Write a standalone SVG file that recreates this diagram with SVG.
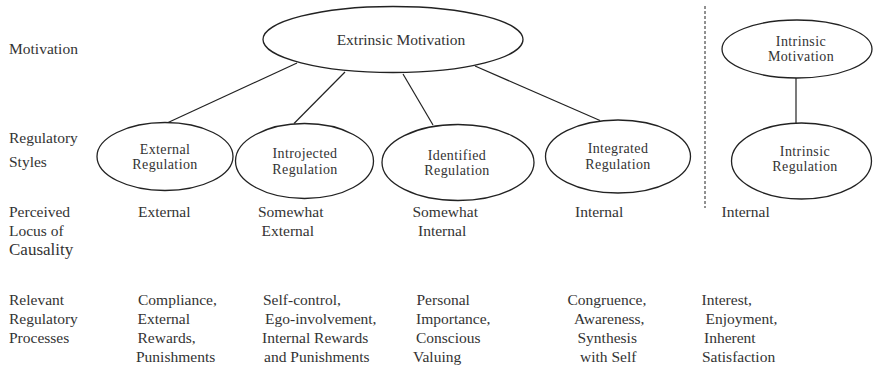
<svg xmlns="http://www.w3.org/2000/svg" width="878" height="369" viewBox="0 0 878 369">
<style>
text{font-family:"Liberation Serif","Times New Roman",serif;font-size:15.5px;fill:#333}
.c{text-anchor:middle}
.n ellipse{fill:#fff;stroke:#222;stroke-width:1.3}
.t{font-size:14px;letter-spacing:0.4px}
#connectors line{stroke:#222;stroke-width:1.2}
</style>
<rect width="878" height="369" fill="#fff"/>
<g id="connectors">
<line x1="297" y1="63" x2="167" y2="123"/>
<line x1="345" y1="72" x2="294" y2="123.5"/>
<line x1="403" y1="74" x2="433" y2="125"/>
<line x1="475" y1="66" x2="600" y2="120.5"/>
<line x1="796" y1="78" x2="796" y2="123"/>
</g>
<line id="divider" x1="705" y1="6" x2="705" y2="208" stroke="#222" stroke-width="1" stroke-dasharray="3 2"/>
<g id="extrinsic-motivation" class="n"><ellipse cx="393" cy="39.5" rx="130" ry="33"/><text class="c" x="401" y="45">Extrinsic Motivation</text></g>
<g id="external-regulation" class="n"><ellipse cx="165" cy="156.5" rx="68" ry="34"/><text class="c t" x="165" y="153.5">External</text><text class="c t" x="165" y="169">Regulation</text></g>
<g id="introjected-regulation" class="n"><ellipse cx="304.5" cy="161" rx="69" ry="37.5"/><text class="c t" x="305" y="158">Introjected</text><text class="c t" x="305" y="173.5">Regulation</text></g>
<g id="identified-regulation" class="n"><ellipse cx="458" cy="162.5" rx="76" ry="38"/><text class="c t" x="457" y="159.5">Identified</text><text class="c t" x="457" y="175">Regulation</text></g>
<g id="integrated-regulation" class="n"><ellipse cx="618" cy="156.5" rx="72.5" ry="36.5"/><text class="c t" x="618" y="153.25">Integrated</text><text class="c t" x="618" y="168.75">Regulation</text></g>
<g id="intrinsic-motivation" class="n"><ellipse cx="797" cy="49" rx="75" ry="29"/><text class="c t" x="801" y="45.5">Intrinsic</text><text class="c t" x="801" y="61">Motivation</text></g>
<g id="intrinsic-regulation" class="n"><ellipse cx="801.5" cy="161" rx="70" ry="38"/><text class="c t" x="805" y="155.5">Intrinsic</text><text class="c t" x="805" y="171">Regulation</text></g>
<g id="row-labels">
<text x="9" y="54">Motivation</text>
<text x="9" y="142.5">Regulatory</text>
<text x="9" y="166.5">Styles</text>
<text x="9" y="216.5">Perceived</text>
<text x="9" y="235.5">Locus of</text>
<text x="9" y="255" style="font-size:17px">Causality</text>
<text x="9" y="305">Relevant</text>
<text x="9" y="324">Regulatory</text>
<text x="9" y="343">Processes</text>
</g>
<g id="locus">
<text x="138" y="216.5">External</text>
<text x="258" y="216.5">Somewhat</text>
<text x="261.5" y="235.5">External</text>
<text x="412.5" y="216.5">Somewhat</text>
<text x="418" y="235.5">Internal</text>
<text x="575" y="216.5">Internal</text>
<text x="721.5" y="216.5">Internal</text>
</g>
<g id="processes">
<text x="138" y="305">Compliance,</text>
<text x="137.5" y="324">External</text>
<text x="137.5" y="343">Rewards,</text>
<text x="136" y="362">Punishments</text>
<text x="263" y="305">Self-control,</text>
<text x="265" y="324">Ego-involvement,</text>
<text x="262" y="343">Internal Rewards</text>
<text x="264" y="362">and Punishments</text>
<text x="416.5" y="305">Personal</text>
<text x="416" y="324">Importance,</text>
<text x="416" y="343">Conscious</text>
<text x="413" y="362">Valuing</text>
<text x="567.5" y="305">Congruence,</text>
<text x="574" y="324">Awareness,</text>
<text x="577.5" y="343">Synthesis</text>
<text x="580" y="362">with Self</text>
<text x="701.5" y="305">Interest,</text>
<text x="705.5" y="324">Enjoyment,</text>
<text x="704" y="343">Inherent</text>
<text x="702" y="362">Satisfaction</text>
</g>
</svg>
